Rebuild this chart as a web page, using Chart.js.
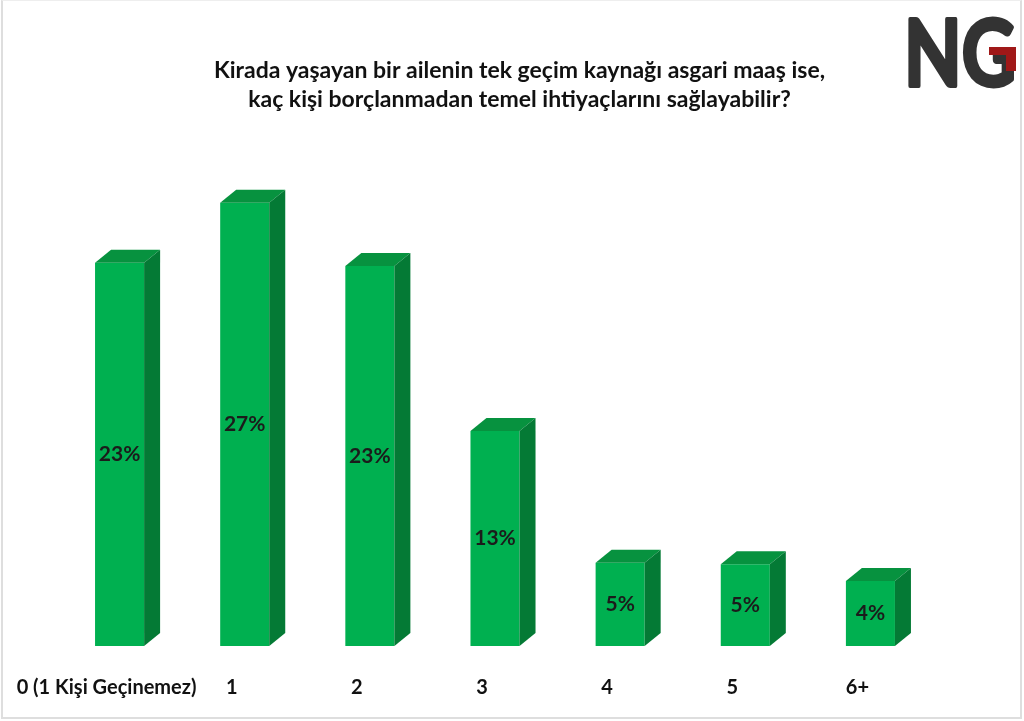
<!DOCTYPE html>
<html lang="tr">
<head>
<meta charset="UTF-8">
<script src="https://cdn.jsdelivr.net/npm/chart.js"></script>
<title>asgari maaş</title>
<style>
  html, body { margin: 0; padding: 0; background: #fff; }
  #kutu { position: relative; width: 1024px; height: 721px; }
  #cerceve { position: absolute; left: 1px; top: 0; right: 2px; bottom: 2px;
             border: 2px solid #dedede; border-top: 1px solid #eeeeee; pointer-events: none; }
</style>
</head>
<body>
<div id="kutu">
  <canvas id="grafik"></canvas>
  <div id="cerceve"></div>
</div>

<script>
  // veriler
  const kategoriler = ['0 (1 Kişi Geçinemez)', '1', '2', '3', '4', '5', '6+'];
  const oranlar = [23, 26.6, 22.8, 12.9, 5, 4.9, 3.9];
  const etiketler = ['23%', '27%', '23%', '13%', '5%', '5%', '4%'];
  const baslik = ['Kirada yaşayan bir ailenin tek geçim kaynağı asgari maaş ise,',
                  'kaç kişi borçlanmadan temel ihtiyaçlarını sağlayabilir?'];

  const yazi = 'Lato, "Open Sans", sans-serif';

  // 3 boyutlu kutu görünümü: üst ve yan yüzler
  const kutu3d = {
    id: 'kutu3d',
    afterDatasetsDraw(chart) {
      const ctx = chart.ctx;
      const dx = 16, dy = 13;
      chart.getDatasetMeta(0).data.forEach((bar, i) => {
        const p = bar.getProps(['x', 'y', 'base', 'width'], true);
        const l = p.x - p.width / 2, r = p.x + p.width / 2;
        ctx.save();
        // üst
        ctx.fillStyle = '#07923f';
        ctx.beginPath();
        ctx.moveTo(l, p.y);
        ctx.lineTo(l + dx, p.y - dy);
        ctx.lineTo(r + dx, p.y - dy);
        ctx.lineTo(r, p.y);
        ctx.closePath();
        ctx.fill();
        // yan
        ctx.fillStyle = '#047a35';
        ctx.beginPath();
        ctx.moveTo(r, p.y);
        ctx.lineTo(r + dx, p.y - dy);
        ctx.lineTo(r + dx, p.base - dy);
        ctx.lineTo(r, p.base);
        ctx.closePath();
        ctx.fill();
        // değer etiketi
        ctx.fillStyle = '#1b1b1b';
        ctx.font = 'bold 21px ' + yazi;
        ctx.textAlign = 'center';
        ctx.textBaseline = 'middle';
        ctx.fillText(etiketler[i], p.x, (p.y + p.base) / 2);
        ctx.restore();
      });
    }
  };

  // NG logosu
  const logo = {
    id: 'logo',
    afterDraw(chart) {
      const ctx = chart.ctx;
      ctx.save();
      const g = ctx.createLinearGradient(0, 15, 0, 90);
      g.addColorStop(0, '#333333');
      g.addColorStop(1, '#0d0d0d');
      ctx.fillStyle = g;
      ctx.strokeStyle = g;
      ctx.lineWidth = 4;
      ctx.lineJoin = 'round';
      ctx.font = 'bold 92px ' + yazi;
      ctx.textAlign = 'left';
      ctx.textBaseline = 'alphabetic';
      const w = ctx.measureText('NG').width;
      ctx.translate(904, 86);
      ctx.scale(112 / w, 1);
      ctx.fillText('NG', 0, 0);
      ctx.strokeText('NG', 0, 0);
      ctx.restore();
      ctx.save();
      ctx.fillStyle = '#a01818';
      ctx.fillRect(989, 47, 27, 8);
      ctx.fillRect(1006, 47, 10, 24);
      ctx.restore();
    }
  };

  new Chart(document.getElementById('grafik'), {
    type: 'bar',
    data: {
      labels: kategoriler,
      datasets: [{
        data: oranlar,
        backgroundColor: '#00b050',
        borderWidth: 0,
        barPercentage: 0.392,
        categoryPercentage: 1
      }]
    },
    options: {
      responsive: true,
      maintainAspectRatio: false,
      animation: false,
      layout: { padding: { left: 57, right: 42, top: 56, bottom: 20 } },
      plugins: {
        legend: { display: false },
        tooltip: { enabled: false },
        title: {
          display: true,
          text: baslik,
          color: '#111',
          font: { family: yazi, size: 23, weight: 'bold', lineHeight: 1.26 },
          padding: { top: 0, bottom: 32 }
        }
      },
      scales: {
        x: {
          grid: { display: false },
          border: { display: false },
          ticks: {
            color: '#111',
            font: { family: yazi, size: 20, weight: 'bold' },
            padding: 22,
            labelOffset: -13,
            maxRotation: 0,
            autoSkip: false
          },
          afterFit(scale) { scale.height = 55; }
        },
        y: {
          position: 'right',
          min: 0,
          max: 30,
          grid: { display: false },
          border: { display: false },
          ticks: { display: false },
          afterFit(scale) { scale.width = 49; }
        }
      }
    },
    plugins: [kutu3d, logo]
  });
</script>
</body>
</html>
